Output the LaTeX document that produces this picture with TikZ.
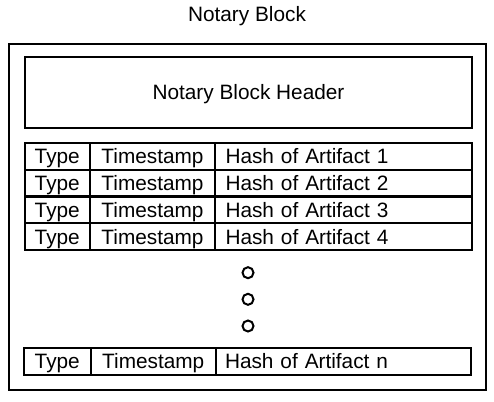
\documentclass[tikz,border=0pt]{standalone}
\usepackage{fontspec}
\setmainfont{Liberation Sans}
\begin{document}
\begin{tikzpicture}[x=1pt,y=-1pt,
  every node/.style={font=\fontsize{20.8}{25}\selectfont, inner sep=0pt,
    text height=14.9pt, text depth=0pt},
  box/.style={draw, line width=2pt, rectangle},
  cell/.style={box, minimum height=26.75pt},
  hashcell/.style={box, minimum height=26.75pt, align=left},
  dot/.style={draw, line width=2pt, circle, minimum size=11pt, text height=0pt}
]
\useasboundingbox (0,0) rectangle (494,401);
\fill[white] (0,0) rectangle (494,401);

% caption and enclosing block
\node (title) at (247,14) {Notary Block};
\node[box, minimum width=476.5pt, minimum height=345.5pt, text height=0pt] (block) at (247.25,216.75) {};

% header
\node[box, minimum width=447pt, minimum height=71pt] (header) at (248.5,92.5) {Notary Block Header};

% artifact entries
\foreach \i/\y in {1/156.4, 2/183.1, 3/209.9, 4/236.6}{
  \node[cell, minimum width=65.5pt] (type\i) at (57.25,\y) {Type};
  \node[cell, minimum width=125pt] (ts\i) at (152.5,\y) {Timestamp};
  \node[hashcell, inner xsep=10.5pt, text width=236pt] (hash\i) at (343.5,\y) {Hash of Artifact \i};
}

% ellipsis
\node[dot] (d1) at (248,272.7) {};
\node[dot] (d2) at (248,299.3) {};
\node[dot] (d3) at (248,326) {};

% last entry
\node[cell, minimum width=67.5pt, minimum height=27pt] (typen) at (57.25,361.5) {Type};
\node[cell, minimum width=124.5pt, minimum height=27pt] (tsn) at (153.25,361.5) {Timestamp};
\node[hashcell, minimum height=27pt, inner xsep=9.5pt, text width=236pt] (hashn) at (343,361.5) {Hash of Artifact n};
\end{tikzpicture}
\end{document}
